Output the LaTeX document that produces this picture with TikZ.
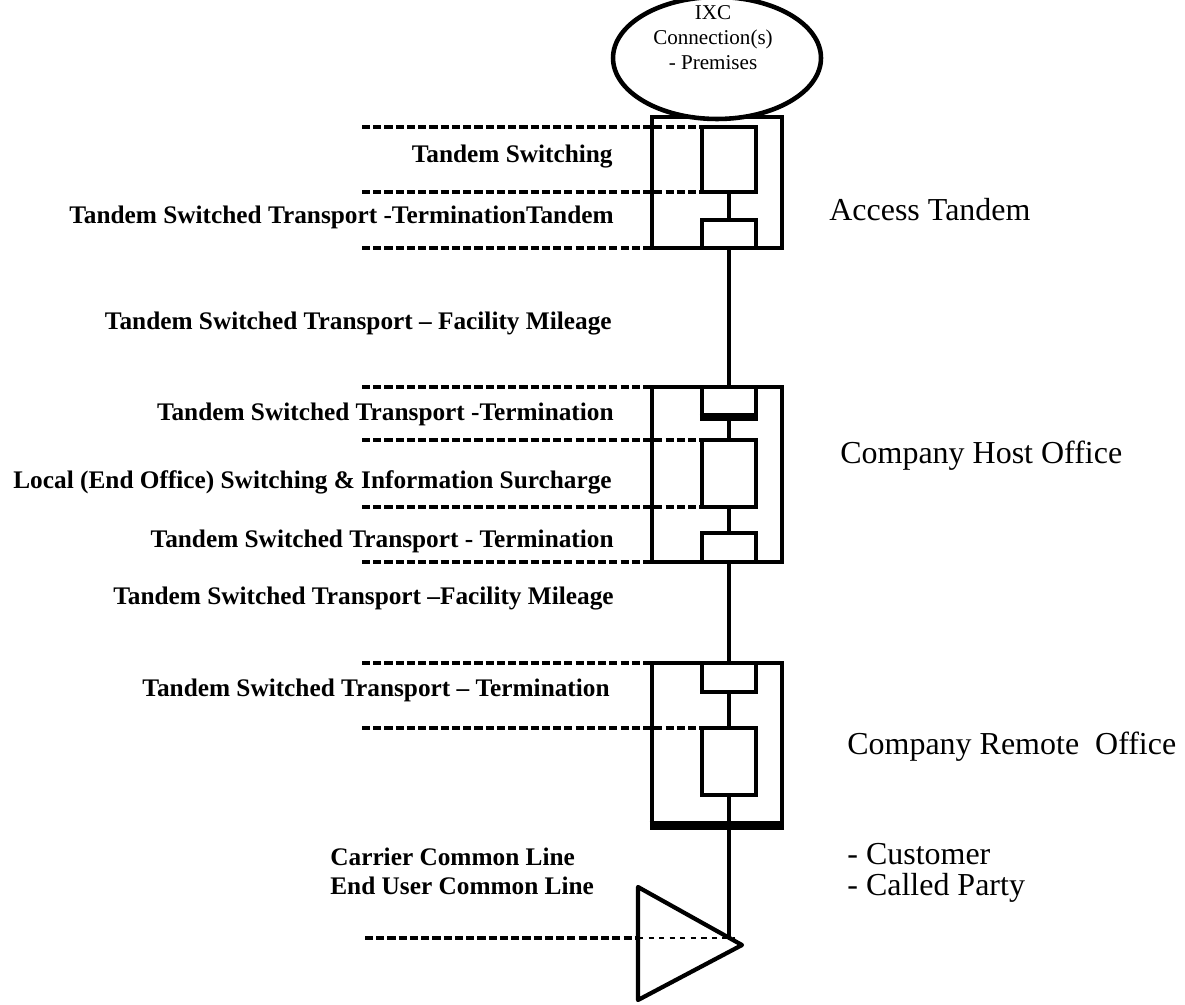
\documentclass[tikz,border=0pt]{standalone}
\usepackage{fontspec}
\setmainfont{Liberation Serif}
\usetikzlibrary{shapes.geometric}

\tikzset{
    outerbox/.style={draw, line width=2.8pt, minimum width=2.6cm, inner sep=0pt},
    innerbox/.style={draw, line width=2.5pt, minimum width=1.08cm, inner sep=0pt},
    spine/.style={line width=2.2pt},
    tapline/.style={line width=2.2pt, dash pattern=on 4.6pt off 1.8pt},
    ratelabel/.style={anchor=east, font=\fontsize{14.4}{16.5}\selectfont\bfseries, inner sep=0pt},
    officelabel/.style={anchor=west, font=\fontsize{18.2}{20}\selectfont, inner sep=0pt}
}

\begin{document}
\begin{tikzpicture}[x=0.02cm, y=-0.02cm]
    \useasboundingbox (0,0) rectangle (1185,1004);

    % Access Tandem
    \node[outerbox, minimum height=2.62cm] (acc) at (717,182.5) {};
    \node[innerbox, minimum height=1.3cm] (acc-sw) at (729,159.5) {};
    \node[innerbox, minimum height=0.56cm] (acc-tt) at (729,234) {};
    \draw[spine] (acc-sw) -- (acc-tt);

    % IXC end
    \node[draw, ellipse, fill=white, line width=2.6pt, minimum width=4.16cm, minimum height=2.44cm] (ixc) at (717,58) {};
    \node[align=center, font=\fontsize{12}{14.2}\selectfont] (ixc-txt) at (713,38) {IXC\\Connection(s)\\- Premises};

    % Company Host Office
    \node[outerbox, minimum height=3.5cm] (host) at (717,474.5) {};
    \node[innerbox, minimum height=0.56cm] (host-t1) at (729,401) {};
    \node[innerbox, minimum height=1.34cm] (host-sw) at (729,473.5) {};
    \node[innerbox, minimum height=0.58cm] (host-t2) at (729,547.5) {};
    \draw[spine] (host-t1) -- (host-sw);
    \draw[spine] (host-sw) -- (host-t2);
    \draw[line width=4pt] (host-t1.south west) -- (host-t1.south east);

    % Company Remote Office
    \node[outerbox, minimum height=3.2cm] (rem) at (717,743) {};
    \node[innerbox, minimum height=0.58cm] (rem-t1) at (729,677.5) {};
    \node[innerbox, minimum height=1.34cm] (rem-sw) at (729,761.5) {};
    \draw[spine] (rem-t1) -- (rem-sw);
    \draw[line width=5pt] (rem.south west) -- (rem.south east);

    % customer end
    \coordinate (tri-top) at (638,887);
    \coordinate (tri-tip) at (742,945);
    \coordinate (tri-bot) at (638,1000);
    \coordinate (spine-end) at (729,938);
    \draw[line width=2.4pt, line join=round] (tri-top) -- (tri-tip) -- (tri-bot) -- cycle;

    % transport between offices
    \draw[spine] (acc-tt.south) -- (host-t1.north);
    \draw[spine] (host-t2.south) -- (rem-t1.north);
    \draw[spine] (rem-sw.south) -- (spine-end);

    % rate element taps
    \coordinate (a1) at (362,127);
    \coordinate (a2) at (362,192);
    \coordinate (a3) at (362,248);
    \draw[tapline] (a1) -- (a1 -| acc-sw.west);
    \draw[tapline] (a2) -- (a2 -| acc-sw.west);
    \draw[tapline] (a3) -- (a3 -| acc.west);

    \coordinate (h1) at (362,387);
    \coordinate (h2) at (362,440);
    \coordinate (h3) at (362,507);
    \coordinate (h4) at (362,562);
    \draw[tapline] (h1) -- (h1 -| host.west);
    \draw[tapline] (h2) -- (h2 -| host-sw.west);
    \draw[tapline] (h3) -- (h3 -| host-sw.west);
    \draw[tapline] (h4) -- (h4 -| host.west);

    \coordinate (r1) at (362,663);
    \coordinate (r2) at (362,728);
    \draw[tapline] (r1) -- (r1 -| rem.west);
    \draw[tapline] (r2) -- (r2 -| rem-sw.west);

    \coordinate (c1) at (365,938);
    \coordinate (c2) at (638,938);
    \draw[tapline] (c1) -- (c2);
    \draw[dashed, line width=0.6pt] (c2) -- (735,938);

    % rate labels
    \node[ratelabel] (l-acc-sw) at (613,157) {Tandem Switching};
    \node[ratelabel] (l-acc-tt) at (614,217) {Tandem Switched Transport -TerminationTandem};
    \node[ratelabel] (l-fm1) at (612,324) {Tandem Switched Transport – Facility Mileage};
    \node[ratelabel] (l-host-t1) at (614,414) {Tandem Switched Transport -Termination};
    \node[ratelabel] (l-host-sw) at (612,482) {Local (End Office) Switching \& Information Surcharge};
    \node[ratelabel] (l-host-t2) at (614,541) {Tandem Switched Transport - Termination};
    \node[ratelabel] (l-fm2) at (614,599) {Tandem Switched Transport –Facility Mileage};
    \node[ratelabel] (l-rem-t1) at (610,690) {Tandem Switched Transport – Termination};
    \node[ratelabel, anchor=west, align=left, font=\fontsize{14.4}{16.5}\selectfont\bfseries] (l-ccl) at (330,871.5) {Carrier Common Line\\End User Common Line};

    % office labels
    \node[officelabel] (l-acc) at (829,210) {Access Tandem};
    \node[officelabel] (l-host) at (840,456) {Company Host Office};
    \node[officelabel] (l-rem) at (847,747) {Company Remote\ \ Office};
    \node[officelabel, align=left, font=\fontsize{18.2}{17.5}\selectfont] (l-cust) at (847,872.5) {- Customer\\- Called Party};
\end{tikzpicture}
\end{document}
